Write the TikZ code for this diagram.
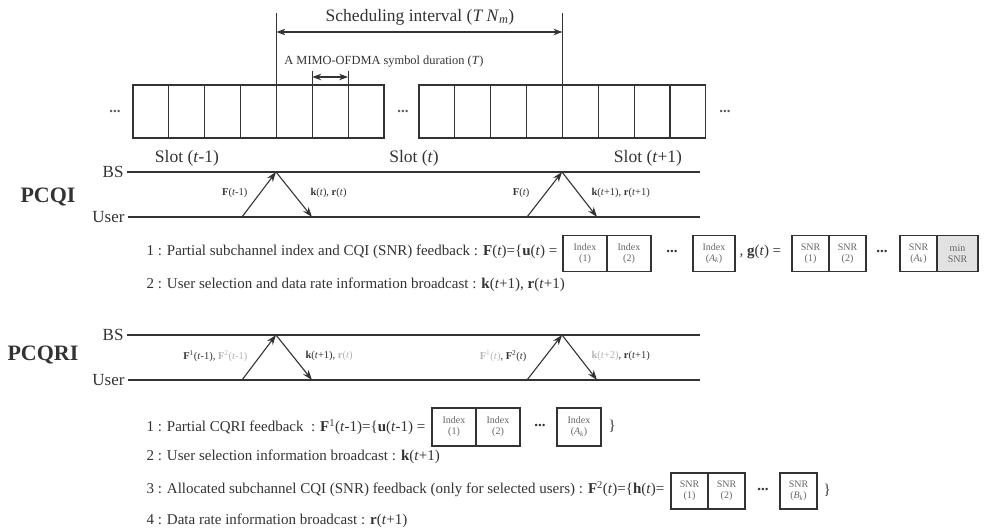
\documentclass[tikz,border=0pt]{standalone}
\usepackage{fontspec}
\setmainfont{Liberation Serif}
\usetikzlibrary{arrows.meta,positioning}
\definecolor{ink}{HTML}{333333}
\definecolor{faint}{HTML}{B4B4B4}
\definecolor{cellgray}{HTML}{E2E2E2}
\newcommand{\fsz}[2]{\fontsize{#1}{#2}\selectfont}
\tikzset{
  timeline/.style={draw=ink,line width=1.3pt},
  slotcell/.style={draw=ink,line width=1.1pt,minimum width=35.85pt,minimum height=53pt,inner sep=0pt,outer sep=0pt,anchor=north west},
  msg/.style={draw=ink,line width=1.1pt,-{Stealth[length=10pt,width=7pt]}},
  span/.style={draw=ink,line width=1.1pt,{Stealth[length=9pt,width=6.5pt]}-{Stealth[length=9pt,width=6.5pt]}},
  fbcell/.style={draw=ink,line width=1.3pt,inner sep=0pt,outer sep=0pt,minimum height=36pt,align=center,text=ink!75,font=\fsz{10}{11}},
  idxcell/.style={fbcell,minimum width=44pt},
  snrcell/.style={fbcell,minimum width=37pt},
  msglabel/.style={font=\fsz{10.5}{12}},
  stepline/.style={anchor=west,font=\fsz{15}{18}},
  sidelabel/.style={anchor=east,font=\fsz{17}{20}},
  schemelabel/.style={font=\fsz{22}{26}\bfseries},
  slotlabel/.style={font=\fsz{17.5}{20}},
  gap/.style={font=\fsz{15}{18}\bfseries}
}
\begin{document}
\begin{tikzpicture}[x=1pt,y=-1pt,every node/.append style={text=ink}]
  \useasboundingbox (0,0) rectangle (985,529);
  % symbol grid of two slots
  \foreach \i in {0,...,6}
    \node[slotcell] (a\i) at (133+\i*35.85,85) {};
  \foreach \i in {0,...,7}
    \node[slotcell] (b\i) at (419+\i*35.85,85) {};
  \node[gap,text=ink!80] (dotsL) at (115,111) {...};
  \node[gap,text=ink!80] (dotsM) at (403,111) {...};
  \node[gap,text=ink!80] (dotsR) at (725,111) {...};
  % scheduling interval
  \draw[draw=ink,line width=1.1pt] (a4.north west) -- (a4.north west |- 0,13);
  \draw[draw=ink,line width=1.1pt] (b4.north west) -- (b4.north west |- 0,13);
  \draw[span] (a4.north west |- 0,32) -- (b4.north west |- 0,32);
  \node[font=\fsz{17.5}{20}] (sched) at (420,17) {Scheduling interval (\textit{T N}\textsubscript{\textit{m}})};
  % one symbol
  \draw[draw=ink,line width=1.1pt] (a5.north west) -- (a5.north west |- 0,71);
  \draw[draw=ink,line width=1.1pt] (a5.north east) -- (a5.north east |- 0,71);
  \draw[span] (a5.north west |- 0,77) -- (a5.north east |- 0,77);
  \node[font=\fsz{12.4}{14}] (symb) at (384,62) {A MIMO-OFDMA symbol duration (\textit{T})};
  \node[slotlabel] (slotA) at (187,158) {Slot (\textit{t}-1)};
  \node[slotlabel] (slotB) at (414,158) {Slot (\textit{t})};
  \node[slotlabel] (slotC) at (648,158) {Slot (\textit{t}+1)};

  % PCQI
  \node[schemelabel] (pcqi) at (48,197) {PCQI};
  \node[sidelabel] (bsA) at (127,172) {BS};
  \node[sidelabel] (userA) at (128,217) {User};
  \coordinate (bsAend) at (700,172);
  \coordinate (userAend) at (700,217);
  \draw[timeline] (bsA.east) -- (bsAend);
  \draw[timeline] (userA.east) -- (userAend);
  \coordinate (pa1) at (242,217); \coordinate (pa2) at (276,172); \coordinate (pa3) at (312,217);
  \coordinate (pb1) at (527,217); \coordinate (pb2) at (562,172); \coordinate (pb3) at (597,217);
  \draw[msg] (pa1) -- (pa2);
  \draw[msg] (pa2) -- (pa3);
  \draw[msg] (pb1) -- (pb2);
  \draw[msg] (pb2) -- (pb3);
  \node[msglabel,anchor=east] (fA) at (251,193) {\textbf{F}(\textit{t}-1)};
  \node[msglabel,anchor=west] (krA) at (307,193) {\textbf{k}(\textit{t}), \textbf{r}(\textit{t})};
  \node[msglabel,anchor=east] (fB) at (533,193) {\textbf{F}(\textit{t})};
  \node[msglabel,anchor=west] (krB) at (588,193) {\textbf{k}(\textit{t}+1), \textbf{r}(\textit{t}+1)};

  \node[stepline] (qa1) at (143,252) {1 : Partial subchannel index and CQI (SNR) feedback : \textbf{F}(\textit{t})=\{\textbf{u}(\textit{t}) =};
  \node[idxcell,anchor=west] (u1) at (563,253.5) {Index\\(1)};
  \node[idxcell,right=0pt of u1] (u2) {Index\\(2)};
  \node[gap] (ud) at (672,251) {...};
  \node[idxcell,anchor=west,minimum width=42pt] (uA) at (693,253.5) {Index\\(\textit{A}\textsubscript{\textit{k}})};
  \node[stepline] (geq) at (736,252) {, \textbf{g}(\textit{t}) =};
  \node[snrcell,anchor=west] (g1) at (792,253.5) {SNR\\(1)};
  \node[snrcell,right=0pt of g1] (g2) {SNR\\(2)};
  \node[gap] (gd) at (882,251) {...};
  \node[snrcell,anchor=west] (gA) at (900,253.5) {SNR\\(\textit{A}\textsubscript{\textit{k}})};
  \node[snrcell,right=0pt of gA,minimum width=41pt,fill=cellgray] (gmin) {min\\SNR};
  \node[stepline] (qa2) at (143,285) {2 : User selection and data rate information broadcast : \textbf{k}(\textit{t}+1), \textbf{r}(\textit{t}+1)};

  % PCQRI
  \node[schemelabel] (pcqri) at (43,355) {PCQRI};
  \node[sidelabel] (bsB) at (127,335) {BS};
  \node[sidelabel] (userB) at (128,380) {User};
  \coordinate (bsBend) at (700,335);
  \coordinate (userBend) at (700,380);
  \draw[timeline] (bsB.east) -- (bsBend);
  \draw[timeline] (userB.east) -- (userBend);
  \coordinate (qa1c) at (242,380); \coordinate (qa2c) at (276,335); \coordinate (qa3c) at (312,380);
  \coordinate (qb1c) at (527,380); \coordinate (qb2c) at (562,335); \coordinate (qb3c) at (597,380);
  \draw[msg] (qa1c) -- (qa2c);
  \draw[msg] (qa2c) -- (qa3c);
  \draw[msg] (qb1c) -- (qb2c);
  \draw[msg] (qb2c) -- (qb3c);
  \node[msglabel,anchor=east] (fC) at (251,356) {\textbf{F}\textsuperscript{1}(\textit{t}-1), {\color{faint}\textbf{F}\textsuperscript{2}(\textit{t}-1)}};
  \node[msglabel,anchor=west] (krC) at (302,356) {\textbf{k}(\textit{t}+1), {\color{faint}\textbf{r}(\textit{t})}};
  \node[msglabel,anchor=east] (fD) at (530,356) {{\color{faint}\textbf{F}\textsuperscript{1}(\textit{t})}, \textbf{F}\textsuperscript{2}(\textit{t})};
  \node[msglabel,anchor=west] (krD) at (588,356) {{\color{faint}\textbf{k}(\textit{t}+2)}, \textbf{r}(\textit{t}+1)};

  \node[stepline] (qb1) at (143,427) {1 : Partial CQRI feedback~ : \textbf{F}\textsuperscript{1}(\textit{t}-1)=\{\textbf{u}(\textit{t}-1) =};
  \node[idxcell,anchor=west,minimum height=38pt] (v1) at (432,427) {Index\\(1)};
  \node[idxcell,right=0pt of v1,minimum height=38pt] (v2) {Index\\(2)};
  \node[gap] (vd) at (540,425) {...};
  \node[idxcell,anchor=west,minimum height=38pt] (vA) at (557,427) {Index\\(\textit{A}\textsubscript{\textit{k}})};
  \node[stepline] (vend) at (605,426) {\}};
  \node[stepline] (qb2) at (143,457) {2 : User selection information broadcast : \textbf{k}(\textit{t}+1)};
  \node[stepline] (qb3) at (143,489) {3 : Allocated subchannel CQI (SNR) feedback (only for selected users) : \textbf{F}\textsuperscript{2}(\textit{t})=\{\textbf{h}(\textit{t})=};
  \node[snrcell,anchor=west] (h1) at (671,491) {SNR\\(1)};
  \node[snrcell,right=0pt of h1] (h2) {SNR\\(2)};
  \node[gap] (hd) at (763,489) {...};
  \node[snrcell,anchor=west] (hB) at (780,491) {SNR\\(\textit{B}\textsubscript{\textit{k}})};
  \node[stepline] (hend) at (820,490) {\}};
  \node[stepline] (qb4) at (143,521) {4 : Data rate information broadcast : \textbf{r}(\textit{t}+1)};
\end{tikzpicture}
\end{document}
